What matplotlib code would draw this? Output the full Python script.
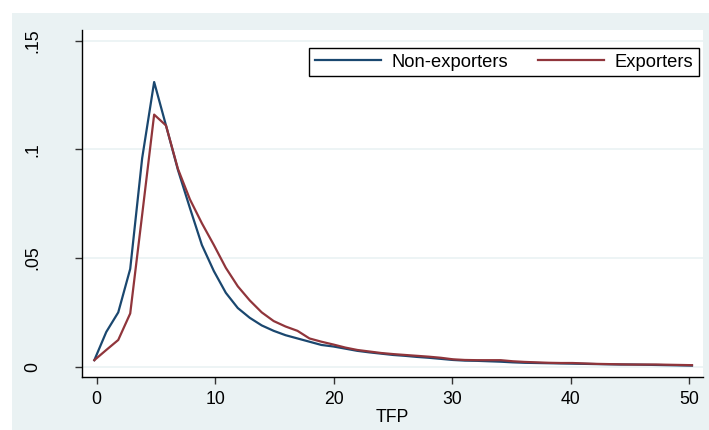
import matplotlib.pyplot as plt
from matplotlib.patches import Rectangle

plt.rcParams['font.family'] = ['Liberation Sans', 'DejaVu Sans']

# grid of TFP values
tfp = [-0.2, 0.81, 1.82, 2.83, 3.84, 4.85, 5.85, 6.86, 7.87, 8.88,
       9.89, 10.90, 11.91, 12.92, 13.93, 14.94, 15.94, 16.95, 17.96, 18.97,
       19.98, 20.99, 22.00, 23.01, 24.02, 25.03, 26.03, 27.04, 28.05, 29.06,
       30.07, 31.08, 32.09, 33.10, 34.11, 35.12, 36.12, 37.13, 38.14, 39.15,
       40.16, 41.17, 42.18, 43.19, 44.20, 45.21, 46.21, 47.22, 48.23, 49.24,
       50.25]

non_exporters = [0.0030, 0.0160, 0.0250, 0.0450, 0.0960, 0.1310, 0.1110, 0.0905, 0.0730, 0.0560,
                 0.0440, 0.0340, 0.0270, 0.0225, 0.0190, 0.0165, 0.0145, 0.0130, 0.0115, 0.0100,
                 0.0093, 0.0083, 0.0073, 0.0066, 0.0060, 0.0054, 0.0050, 0.0045, 0.0041, 0.0036,
                 0.0031, 0.0028, 0.0027, 0.0025, 0.0023, 0.0020, 0.0018, 0.0017, 0.0016, 0.0015,
                 0.0014, 0.0013, 0.0012, 0.0011, 0.0010, 0.0010, 0.0009, 0.0008, 0.0007, 0.0006,
                 0.0005]

exporters = [0.0030, 0.0077, 0.0123, 0.0245, 0.0700, 0.1160, 0.1110, 0.0910, 0.0770, 0.0660,
             0.0560, 0.0455, 0.0370, 0.0305, 0.0250, 0.0210, 0.0185, 0.0165, 0.0130, 0.0115,
             0.0102, 0.0088, 0.0077, 0.0070, 0.0063, 0.0058, 0.0054, 0.0050, 0.0046, 0.0041,
             0.0034, 0.0031, 0.0030, 0.0030, 0.0030, 0.0025, 0.0022, 0.0020, 0.0018, 0.0017,
             0.0017, 0.0015, 0.0013, 0.0012, 0.0011, 0.0010, 0.0010, 0.0010, 0.0009, 0.0008,
             0.0007]

xticks = [0, 10, 20, 30, 40, 50]
yticks = [0, 0.05, 0.1, 0.15]
ylabels = ['0', '.05', '.1', '.15']

BG = '#eaf2f3'
BLUE = '#1a476f'
RED = '#90353b'

W, H = 709, 430
fig = plt.figure(figsize=(W / 100, H / 100), dpi=100)
fig.patch.set_facecolor('white')
# light outer background of the graph region
bg = Rectangle((12 / W, 0), 1 - 12 / W, 1 - 13 / H, transform=fig.transFigure,
               facecolor=BG, edgecolor='none', zorder=-10)
fig.add_artist(bg)

ax = fig.add_axes([82 / W, 1 - 377 / H, (703 - 82) / W, (377 - 30) / H])
ax.set_zorder(1)
ax.set_facecolor('white')

ax.plot(tfp, non_exporters, color=BLUE, lw=1.6, label='Non-exporters', zorder=3)
ax.plot(tfp, exporters, color=RED, lw=1.6, label='Exporters', zorder=3)

ax.set_xlim(-1.24, 51.18)
ax.set_ylim(-0.00474, 0.15493)

ax.set_xticks(xticks)
ax.set_yticks(yticks)
ax.set_yticklabels(ylabels, rotation=90, va='center')
ax.tick_params(axis='both', labelsize=12.7, length=5, width=1, color='#333333')
ax.tick_params(axis='y', pad=24)
ax.tick_params(axis='x', pad=5)
ax.grid(axis='y', color=BG, lw=1.2)
ax.set_axisbelow(True)

for side in ['top', 'right']:
    ax.spines[side].set_visible(False)
for side in ['left', 'bottom']:
    ax.spines[side].set_linewidth(1)
    ax.spines[side].set_color('black')

ax.set_xlabel('TFP', fontsize=12.7, labelpad=1)

leg = ax.legend(loc='upper right', bbox_to_anchor=(0.9936, 0.948), ncol=2,
                fontsize=13.2, frameon=True, fancybox=False, framealpha=1,
                edgecolor='black', handlelength=3.6, handletextpad=0.6,
                columnspacing=1.6, borderpad=0.3, borderaxespad=0)
leg.get_frame().set_linewidth(1)

fig.savefig('out.png', dpi=100)
